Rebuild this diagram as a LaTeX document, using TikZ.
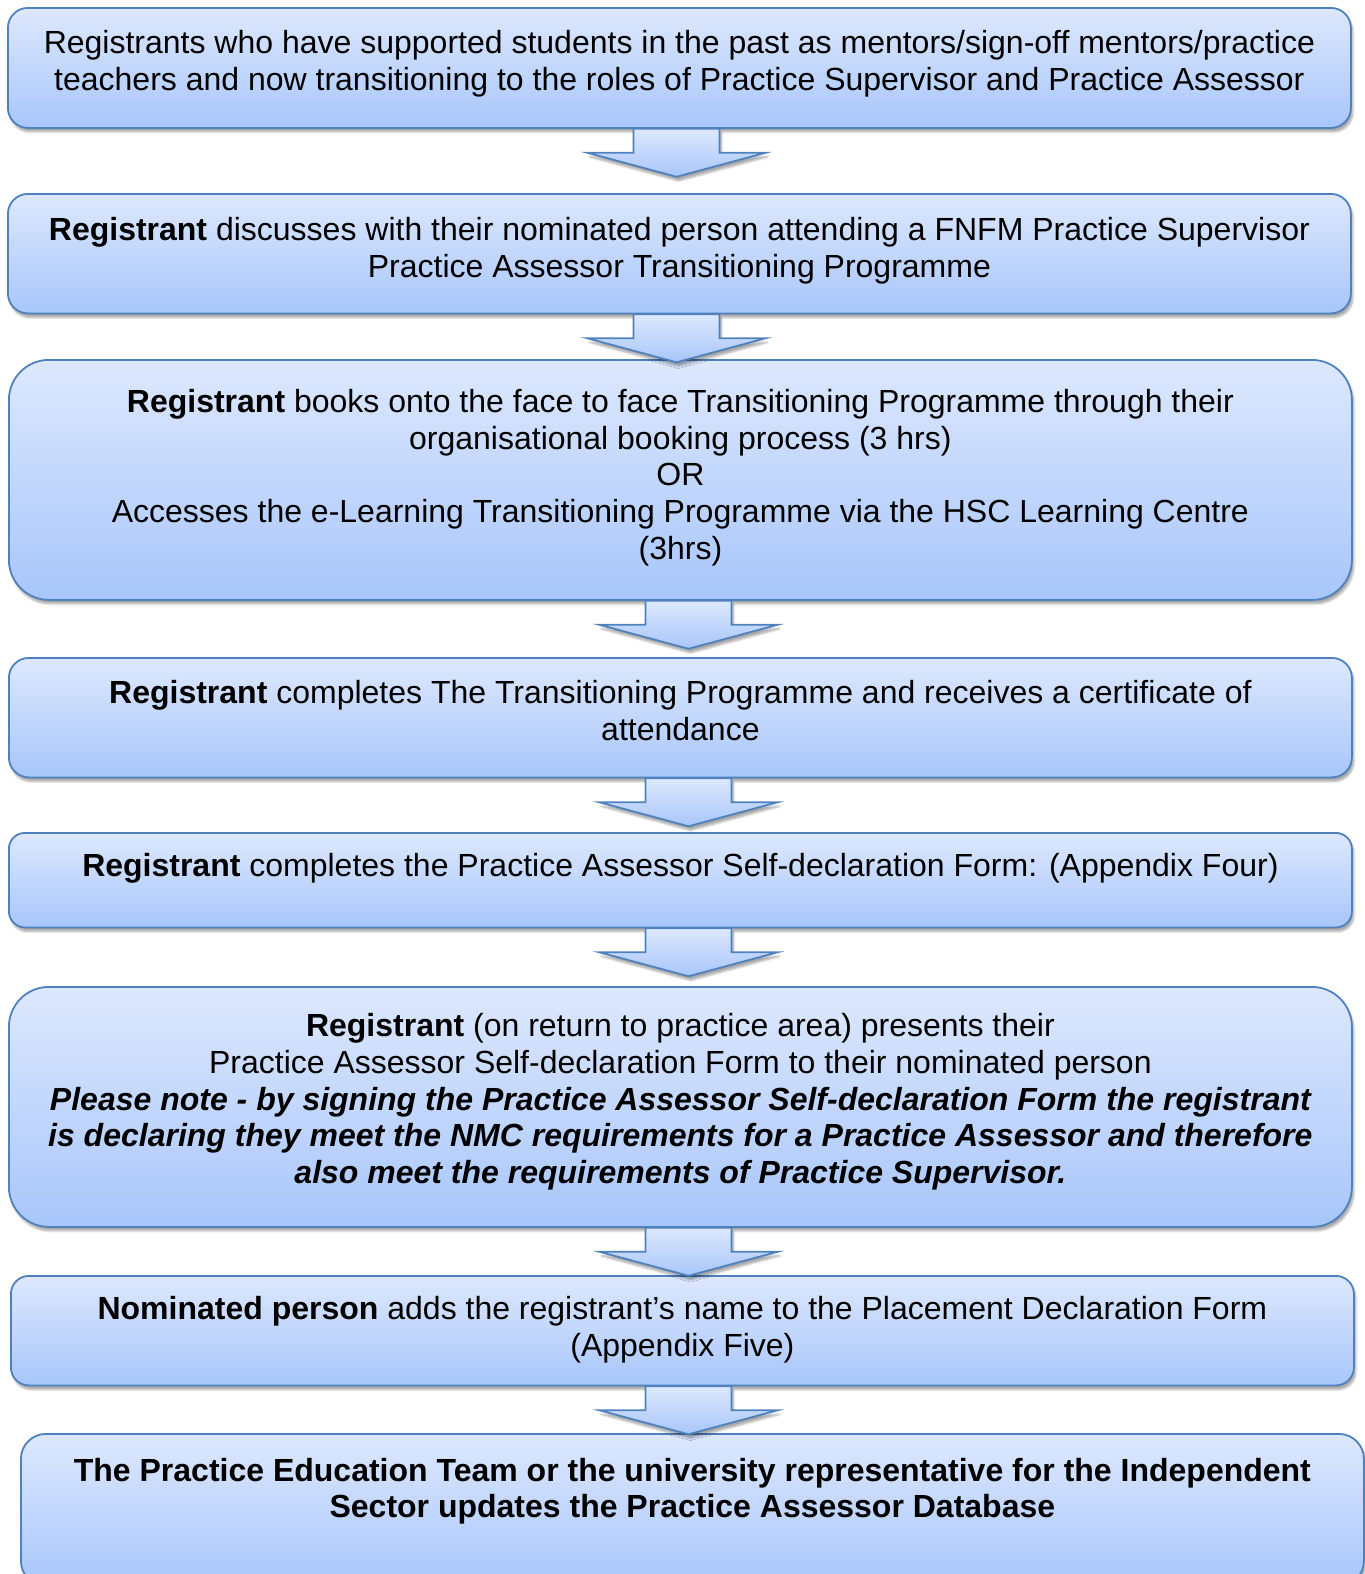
\documentclass[tikz,border=0pt]{standalone}
\usepackage{fontspec}
\setmainfont{Liberation Sans}
\usetikzlibrary{calc,shadows.blur}

\definecolor{stepTop}{HTML}{DDE8FD}
\definecolor{stepBot}{HTML}{A8C6FA}
\definecolor{stepLine}{HTML}{4F81BD}

% box body: height, space above first line, text
\newcommand{\stepbody}[3]{\parbox[c][#1pt][t]{1343pt}{\centering\vspace*{#2pt}#3}}
% block arrow under a box: box name, x of arrow
\newcommand{\stepdown}[2]{%
  \path[arrowshape] let \p1=(#1.south) in
    (#2pt-43pt,\y1) -- (#2pt+43pt,\y1) -- (#2pt+43pt,\y1-24pt) -- (#2pt+89pt,\y1-24pt)
    -- (#2pt,\y1-48pt) -- (#2pt-89pt,\y1-24pt) -- (#2pt-43pt,\y1-24pt) -- cycle;}

\begin{document}
\begin{tikzpicture}[x=1pt,y=-1pt,
  every node/.style={font=\fontsize{32}{36.7}\selectfont},
  shade/.style={top color=stepTop,bottom color=stepBot,draw=stepLine,line width=1.8pt,
                blur shadow={shadow xshift=2pt,shadow yshift=-4pt,shadow blur steps=6,shadow opacity=35}},
  stepbox/.style={shade,anchor=north west,inner sep=0pt,align=center},
  arrowshape/.style={shade,line join=miter}
]
\useasboundingbox (0,0) rectangle (1365,1574);

\node[stepbox,rounded corners=20pt] (s1) at (7,7) {\stepbody{120}{22.5}{%
  Registrants who have supported students in the past as mentors/sign-off mentors/practice\\
  teachers and now transitioning to the roles of Practice Supervisor and Practice Assessor}};
\node[stepbox,rounded corners=20pt] (s2) at (7,193) {\stepbody{119.5}{23.5}{%
  \textbf{Registrant} discusses with their nominated person attending a FNFM Practice Supervisor\\
  Practice Assessor Transitioning Programme}};
\node[stepbox,rounded corners=40pt] (s3) at (8,359) {\stepbody{240}{29.5}{%
  \textbf{Registrant} books onto the face to face Transitioning Programme through their\\
  organisational booking process (3 hrs)\\
  OR\\
  Accesses the e-Learning Transitioning Programme via the HSC Learning Centre\\
  (3hrs)}};
\node[stepbox,rounded corners=20pt] (s4) at (8,657) {\stepbody{119.5}{22.5}{%
  \textbf{Registrant} completes The Transitioning Programme and receives a certificate of\\
  attendance}};
\node[stepbox,rounded corners=16pt] (s5) at (8,832) {\stepbody{94.5}{20.5}{%
  \textbf{Registrant} completes the Practice Assessor Self-declaration Form: (Appendix Four)}};
\node[stepbox,rounded corners=40pt] (s6) at (8,986) {\stepbody{240}{26.5}{%
  \textbf{Registrant} (on return to practice area) presents their\\
  Practice Assessor Self-declaration Form to their nominated person\\
  {\bfseries\itshape Please note - by signing the Practice Assessor Self-declaration Form the registrant\\
  is declaring they meet the NMC requirements for a Practice Assessor and therefore\\
  also meet the requirements of Practice Supervisor.}}};
\node[stepbox,rounded corners=18pt] (s7) at (10,1275) {\stepbody{109.5}{20.5}{%
  \textbf{Nominated person} adds the registrant's name to the Placement Declaration Form\\
  (Appendix Five)}};
\node[stepbox,rounded corners=25pt] (s8) at (20,1433) {\stepbody{152}{24}{\bfseries
  The Practice Education Team or the university representative for the Independent\\
  Sector updates the Practice Assessor Database}};

\stepdown{s1}{676.5}
\stepdown{s2}{676.5}
\stepdown{s3}{688.5}
\stepdown{s4}{688.5}
\stepdown{s5}{688.5}
\stepdown{s6}{688.5}
\stepdown{s7}{688.5}
\end{tikzpicture}
\end{document}
